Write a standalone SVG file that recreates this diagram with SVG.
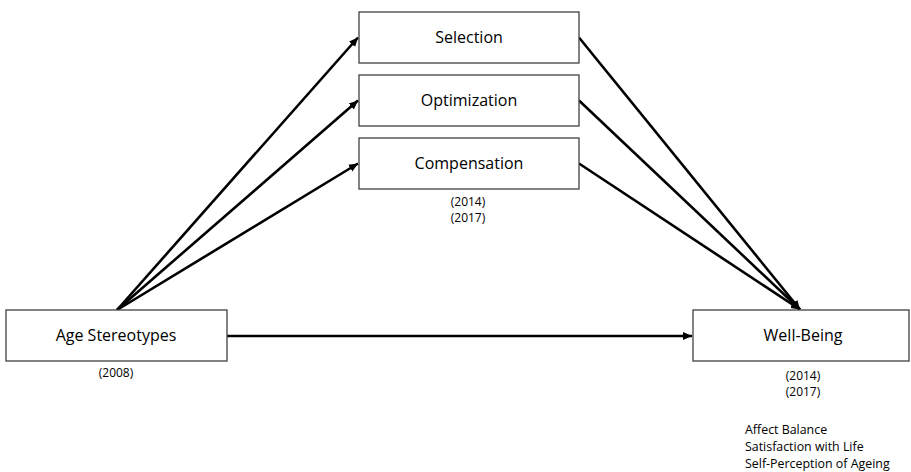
<svg xmlns="http://www.w3.org/2000/svg" width="911" height="472" viewBox="0 0 911 472">
<defs>
<style>
.box{fill:#fff;stroke:#404040;stroke-width:1.3}
.lbl{font-family:"Open Sans","Noto Sans",sans-serif;font-size:16px;fill:#000;text-anchor:middle}
.sm{font-family:"Open Sans","Noto Sans",sans-serif;font-size:12px;fill:#000}
.ls{font-size:12.4px}
.c{text-anchor:middle}
.arr{stroke:#000;stroke-width:2.6;fill:none;marker-end:url(#ah)}
</style>
<marker id="ah" markerUnits="userSpaceOnUse" markerWidth="10" markerHeight="10" viewBox="0 0 10 10" refX="9" refY="5" orient="auto">
<path d="M0,1 L9,5 L0,9 z" fill="#000"/>
</marker>
</defs>
<rect width="911" height="472" fill="#fff"/>
<g id="connectors">
<line class="arr" x1="117" y1="310" x2="358" y2="37.5"/>
<line class="arr" x1="117" y1="310" x2="358" y2="100.5"/>
<line class="arr" x1="117" y1="310" x2="358" y2="163.5"/>
<line class="arr" x1="579" y1="37.5" x2="800" y2="309.5"/>
<line class="arr" x1="579" y1="100.5" x2="800" y2="309.5"/>
<line class="arr" x1="579" y1="163.5" x2="800" y2="309.5"/>
<line class="arr" x1="227" y1="336" x2="692" y2="336"/>
</g>
<g id="selection">
<rect class="box" x="359" y="12" width="220" height="51"/>
<text class="lbl" x="469" y="43">Selection</text>
</g>
<g id="optimization">
<rect class="box" x="359" y="75" width="220" height="51"/>
<text class="lbl" x="469" y="106">Optimization</text>
</g>
<g id="compensation">
<rect class="box" x="359" y="138" width="220" height="51"/>
<text class="lbl" x="469" y="169">Compensation</text>
<text class="sm c" x="468" y="205.5">(2014)</text>
<text class="sm c" x="468" y="222">(2017)</text>
</g>
<g id="age-stereotypes">
<rect class="box" x="6" y="310" width="221" height="51"/>
<text class="lbl" x="116" y="341">Age Stereotypes</text>
<text class="sm c" x="116" y="377">(2008)</text>
</g>
<g id="well-being">
<rect class="box" x="693" y="310" width="216" height="51"/>
<text class="lbl" x="803" y="341">Well-Being</text>
<text class="sm c" x="803" y="379.5">(2014)</text>
<text class="sm c" x="803" y="396">(2017)</text>
<text class="sm ls" x="745" y="434">Affect Balance</text>
<text class="sm ls" x="745" y="451">Satisfaction with Life</text>
<text class="sm ls" x="745" y="468">Self-Perception of Ageing</text>
</g>
</svg>
